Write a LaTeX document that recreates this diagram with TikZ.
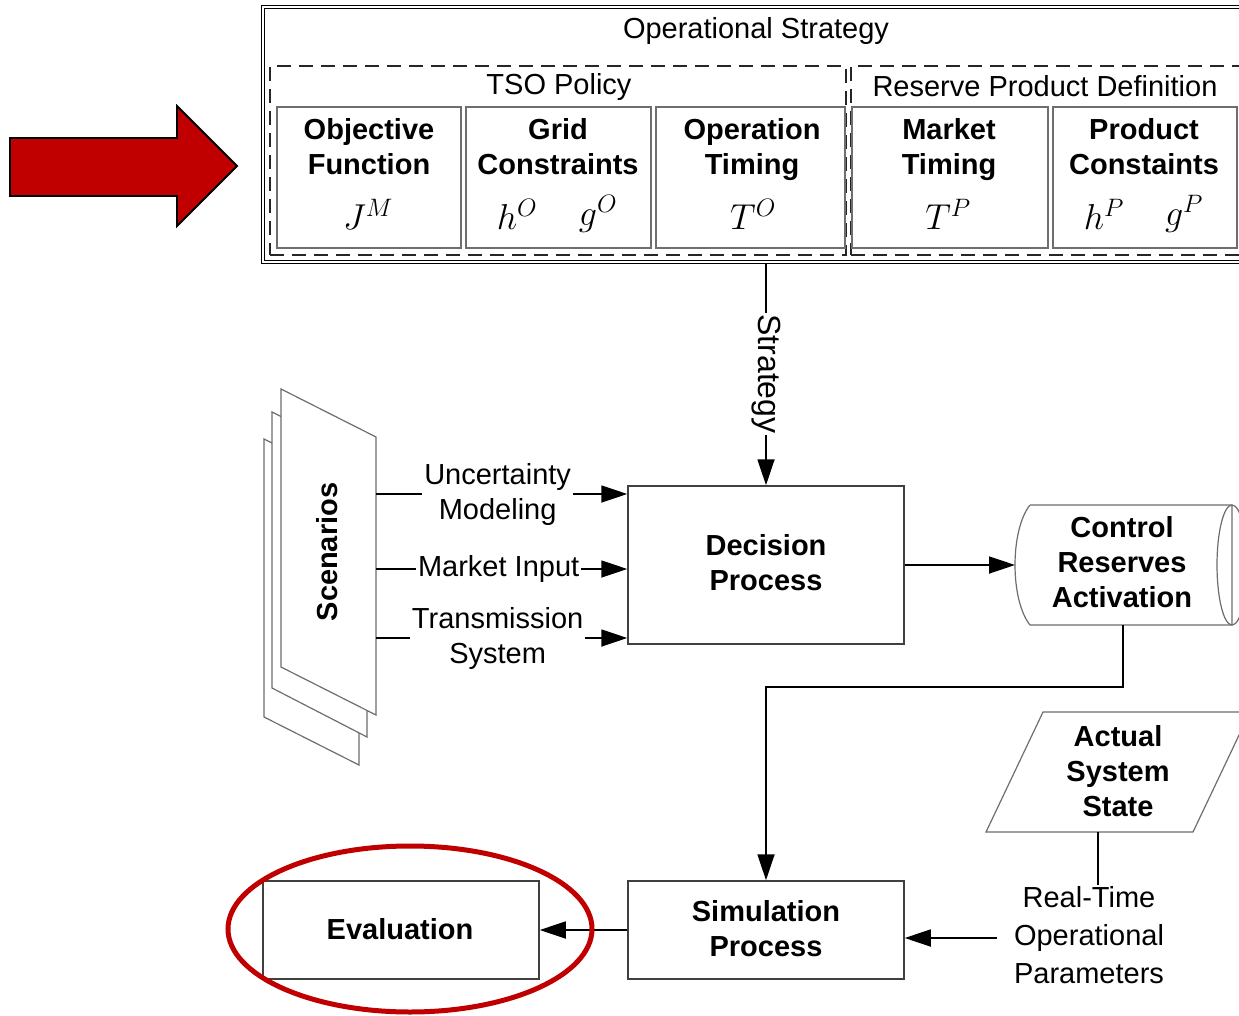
\RequirePackage{fix-cm}
\documentclass[tikz,border=0pt]{standalone}
\usepackage{fontspec}
\setmainfont{Liberation Sans}
\usetikzlibrary{arrows.meta}
\definecolor{hlred}{RGB}{192,0,0}
\definecolor{boxgray}{RGB}{110,110,110}
\tikzset{
  txt/.style={font=\fontsize{29}{35}\selectfont, align=center, inner sep=1pt},
  btxt/.style={txt, font=\fontsize{29}{35}\selectfont\bfseries},
  htxt/.style={btxt, anchor=north},
  mtxt/.style={font=\fontsize{36}{40}\selectfont, inner sep=0pt},
  ibox/.style={draw=boxgray, line width=1.2pt, fill=white, inner sep=0pt},
  pbox/.style={draw=black!75, line width=1.5pt, fill=white, inner sep=0pt},
  dbox/.style={draw=black!85, line width=1.6pt, dash pattern=on 14pt off 8pt, inner sep=0pt},
  arr/.style={line width=1.8pt, -{Triangle[length=26pt,width=17pt]}},
  conn/.style={line width=1.8pt},
  onwire/.style={txt, fill=white, inner sep=2pt},
  sheet/.style={draw=boxgray, line width=1.2pt, fill=white},
}
\begin{document}
\begin{tikzpicture}[x=1pt, y=-1pt]
\clip (0,0) rectangle (1239,1016);
\fill[white] (0,0) rectangle (1239,1016);

% ---- Operational strategy frame ----
\node[draw=black, line width=1.3pt, double, double distance=1.1pt, minimum width=990, minimum height=255, inner sep=0pt] (os) at (758,134.5) {};
\node[txt] (osT) at (756,31) {Operational Strategy};
\node[dbox, minimum width=576, minimum height=189] (tso) at (558,160.5) {};
\node[dbox, minimum width=400, minimum height=189] (rpd) at (1051,160.5) {};
\node[txt] (tsoT) at (559,87) {TSO Policy};
\node[txt] (rpdT) at (1045,86) {Reserve Product Definition};

% element boxes
\node[ibox, minimum width=184, minimum height=141] (obj) at (369,177.5) {};
\node[ibox, minimum width=185, minimum height=141] (grid) at (558.5,177.5) {};
\node[ibox, minimum width=189, minimum height=141] (opt) at (750.5,177.5) {};
\node[ibox, minimum width=196, minimum height=141] (mkt) at (950,177.5) {};
\node[ibox, minimum width=184, minimum height=141] (prod) at (1145,177.5) {};

\node[htxt] (objT) at (369,117) {Objective\\Function};
\node[htxt] (gridT) at (558,117) {Grid\\Constraints};
\node[htxt] (optT) at (752,117) {Operation\\Timing};
\node[htxt] (mktT) at (949,117) {Market\\Timing};
\node[htxt] (prodT) at (1144,117) {Product\\Constaints};

\node[mtxt] (objM) at (368,214) {$J^M$};
\node[mtxt] (gridH) at (517,214) {$h^O$};
\node[mtxt] (gridG) at (598,214) {$g^O$};
\node[mtxt] (optM) at (753,214) {$T^O$};
\node[mtxt] (mktM) at (948,214) {$T^P$};
\node[mtxt] (prodH) at (1104,214) {$h^P$};
\node[mtxt] (prodG) at (1184,214) {$g^P$};

% ---- Scenario sheets ----
\draw[sheet] (264,439) -- (359,487) -- (359,765) -- (264,717) -- cycle;
\draw[sheet] (272,412) -- (367,460) -- (367,737) -- (272,688) -- cycle;
\draw[sheet] (281,389) -- (376,437) -- (376,715) -- (281,667) -- cycle;
\node[btxt, rotate=90] (scen) at (327,552) {Scenarios};
\coordinate (sc1) at (376,494);
\coordinate (sc2) at (376,569);
\coordinate (sc3) at (376,638);

% ---- Process blocks ----
\node[pbox, minimum width=276, minimum height=158] (dec) at (766,565) {};
\node[btxt] (decT) at (766,563) {Decision\\Process};

\node[minimum width=217, minimum height=120, inner sep=0pt] (cra) at (1123,565) {};
\draw[draw=boxgray, line width=1.2pt, fill=white]
  (1030,505) -- (1232,505) -- (1232,625) -- (1030,625)
  .. controls (1010,600) and (1010,530) .. (1030,505);
\draw[draw=boxgray, line width=1.2pt] (1232,565) ellipse [x radius=15, y radius=60];
\node[btxt] (craT) at (1122,562) {Control\\Reserves\\Activation};
\coordinate (craL) at (1015,565);

\node[minimum width=200, minimum height=120, inner sep=0pt] (ass) at (1117,772) {};
\draw[draw=boxgray, line width=1.2pt, fill=white]
  (1043,712) -- (1250,712) -- (1193,832) -- (986,832) -- cycle;
\node[btxt] (assT) at (1118,771) {Actual\\System\\State};
\coordinate (assB) at (1098,832);

\node[pbox, minimum width=276, minimum height=98] (sim) at (766,930) {};
\node[btxt] (simT) at (766,929) {Simulation\\Process};

\node[pbox, minimum width=276, minimum height=98] (eval) at (401,930) {};
\node[btxt] (evalT) at (400,929) {Evaluation};

\node[txt, font=\fontsize{29}{38}\selectfont] (rtp) at (1089,935) {Real-Time\\Operational\\Parameters};
\coordinate (rtIn) at (997,938);

% ---- Connectors ----
\draw[arr] (os.south -| dec.north) -- node[onwire, rotate=-90, font=\fontsize{32}{36}\selectfont, inner sep=1pt] (strat) {Strategy} (dec.north);
\draw[arr] (sc1) -- node[onwire, xshift=-4pt] (um) {Uncertainty\\Modeling} (sc1 -| dec.west);
\draw[arr] (sc2) -- node[onwire, xshift=-3pt] (mi) {Market Input} (sc2 -| dec.west);
\draw[arr] (sc3) -- node[onwire, xshift=-4pt] (ts) {Transmission\\System} (sc3 -| dec.west);
\draw[arr] (dec.east) -- (craL);
\draw[arr] (cra.south) -- ++(0,62) -| (sim.north);
\draw[conn] (assB) -- (assB |- rtp.north);
\draw[arr] (rtIn) -- (sim.east |- rtIn);
\draw[arr] (sim.west) -- (eval.east);

% ---- Highlights ----
\draw[fill=hlred, draw=black, line width=1.8pt]
  (10,138) -- (177,138) -- (177,106) -- (237,166) -- (177,226) -- (177,196) -- (10,196) -- cycle;
\draw[hlred, line width=5pt] (410,929) ellipse [x radius=182, y radius=83];
\end{tikzpicture}
\end{document}
